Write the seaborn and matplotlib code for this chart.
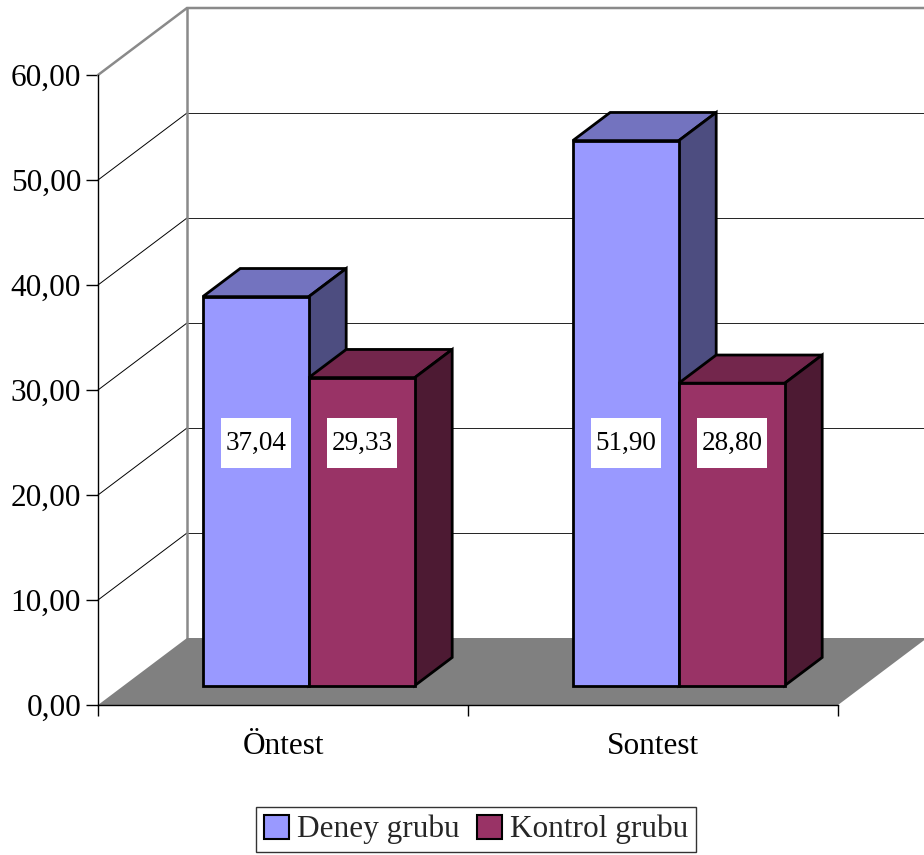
import matplotlib
matplotlib.use("Agg")
import matplotlib.pyplot as plt
import numpy as np
import pandas as pd
import seaborn as sns
from matplotlib.patches import Polygon, Patch
from matplotlib.path import Path

# --- data -------------------------------------------------------------
tests = ["Öntest", "Sontest"]
groups = ["Deney grubu", "Kontrol grubu"]
deney = [37.04, 51.90]
kontrol = [29.33, 28.80]
yticks = [0, 10, 20, 30, 40, 50, 60]

# --- style ------------------------------------------------------------
front_colors = {"Deney grubu": "#9999FF", "Kontrol grubu": "#993366"}
top_colors = {"Deney grubu": "#7373BF", "Kontrol grubu": "#73264C"}
side_colors = {"Deney grubu": "#4D4D80", "Kontrol grubu": "#4D1A33"}
frame_gray = "#8A8A8A"
floor_gray = "#808080"

# pseudo-3D geometry: full depth of the box in pixels, bar slab depth range
DEPTH_PX = (89.0, 67.0)
D_FRONT, D_BACK = 0.29, 0.71
LABEL_LEVEL = 23.1  # height of value labels in the bar plane

df = pd.DataFrame({
    "test": tests * 2,
    "grup": [groups[0]] * len(tests) + [groups[1]] * len(tests),
    "value": deney + kontrol,
})

sns.set_theme(style="white")
plt.rcParams["font.family"] = ["Liberation Serif", "DejaVu Serif"]

fig = plt.figure(figsize=(9.24, 8.55), dpi=100, facecolor="white")
ax = fig.add_axes([98 / 924, 150 / 855, 740 / 924, 630 / 855])

sns.barplot(data=df, x="test", y="value", hue="grup", order=tests,
            hue_order=groups, palette=front_colors, saturation=1,
            width=0.573, edgecolor="black", linewidth=2.0, ax=ax,
            legend=False)

# bar fronts with their group, in left-to-right drawing order
bars = []
for g, container in zip(groups, ax.containers):
    for p in container:
        bars.append((g, p))
bars.sort(key=lambda gp: gp[1].get_x())

ax.set_xlim(-0.5, len(tests) - 0.5)
ax.set_ylim(yticks[0], yticks[-1])
ax.patch.set_visible(False)

# depth offsets in data units
DX = DEPTH_PX[0] / (ax.bbox.width / (len(tests)))
DY = DEPTH_PX[1] / (ax.bbox.height / (yticks[-1] - yticks[0]))


def proj(x, y, d):
    return (x + d * DX, y + d * DY)


x0, x1 = -0.5, len(tests) - 0.5

# floor
floor = Polygon([proj(x0, 0, 0), proj(x1, 0, 0), proj(x1, 0, 1), proj(x0, 0, 1)],
                closed=True, facecolor=floor_gray, edgecolor="none",
                zorder=2, clip_on=False)
ax.add_patch(floor)

# gridlines on left and back walls
for t in yticks[1:-1]:
    lx, ly = zip((x0, t), proj(x0, t, 1))
    ax.plot(lx, ly, color="black", lw=0.7, zorder=1, clip_on=False)
    bx_, by_ = zip(proj(x0, t, 1), proj(x1, t, 1))
    ax.plot(bx_, by_, color="#222222", lw=0.7, zorder=1, clip_on=False)

# wall frame
top = yticks[-1]
fx, fy = zip((x0, top), proj(x0, top, 1), proj(x1, top, 1))
ax.plot(fx, fy, color=frame_gray, lw=1.8, zorder=1, clip_on=False,
        solid_joinstyle="miter")
vx, vy = zip(proj(x0, 0, 1), proj(x0, top, 1))
ax.plot(vx, vy, color=frame_gray, lw=1.8, zorder=1, clip_on=False)


def label_box(x0b, y0b, width, height, mutation_size):
    px = 0.17 * mutation_size
    py = 0.45 * mutation_size
    verts = [(x0b - px, y0b - py), (x0b + width + px, y0b - py),
             (x0b + width + px, y0b + height + py), (x0b - px, y0b + height + py),
             (x0b - px, y0b - py)]
    return Path(verts, [Path.MOVETO, Path.LINETO, Path.LINETO, Path.LINETO,
                        Path.CLOSEPOLY])


for i, (g, p) in enumerate(bars):
    bx, bw, bh = p.get_x(), p.get_width(), p.get_height()
    z = 10 + 3 * i
    topface = Polygon([proj(bx, bh, D_FRONT), proj(bx + bw, bh, D_FRONT),
                       proj(bx + bw, bh, D_BACK), proj(bx, bh, D_BACK)],
                      closed=True, facecolor=top_colors[g], edgecolor="black",
                      lw=2.0, zorder=z, clip_on=False, joinstyle="miter")
    side = Polygon([proj(bx + bw, 0, D_FRONT), proj(bx + bw, bh, D_FRONT),
                    proj(bx + bw, bh, D_BACK), proj(bx + bw, 0, D_BACK)],
                   closed=True, facecolor=side_colors[g], edgecolor="black",
                   lw=2.0, zorder=z, clip_on=False, joinstyle="miter")
    ax.add_patch(topface)
    ax.add_patch(side)
    fx0, fy0 = proj(bx, 0, D_FRONT)
    p.set_x(fx0)
    p.set_y(fy0)
    p.set_zorder(z + 1)
    p.set_clip_on(False)
    p.set_joinstyle("miter")
    cx, cy = proj(bx + bw / 2, LABEL_LEVEL, D_FRONT)
    ax.text(cx, cy, f"{bh:.2f}".replace(".", ","), ha="center", va="center",
            fontsize=19.5, color="black", zorder=z + 2,
            bbox=dict(boxstyle=label_box, facecolor="white", edgecolor="none"))

# axes, ticks and labels
for s in ["top", "right"]:
    ax.spines[s].set_visible(False)
for s in ["left", "bottom"]:
    ax.spines[s].set_color("black")
    ax.spines[s].set_linewidth(1.0)
    ax.spines[s].set_zorder(5)

ax.set_yticks(yticks, [f"{t:.2f}".replace(".", ",") for t in yticks])
ax.tick_params(axis="y", direction="out", length=8.6, width=1.0, pad=3.6,
               labelsize=22.5, colors="black", left=True)
ax.set_xticks(range(len(tests)), tests)
ax.set_xticks(np.arange(len(tests) + 1) - 0.5, minor=True)
ax.tick_params(axis="x", which="major", length=0, pad=19.5, labelsize=22.5,
               colors="black")
ax.tick_params(axis="x", which="minor", direction="out", length=8,
               width=1.0, color="black", bottom=True)
ax.set_xlabel("")
ax.set_ylabel("")
ax.grid(False)

handles = [Patch(facecolor=front_colors[g], edgecolor="black", lw=1.5, label=g)
           for g in groups]
leg = fig.legend(handles=handles, loc="center",
                 bbox_to_anchor=(476 / 924, 1 - 829.5 / 855), ncol=2,
                 frameon=True, fancybox=False, edgecolor="black",
                 fontsize=22.5, handlelength=0.8, handleheight=0.8,
                 handletextpad=0.25, columnspacing=0.55, borderpad=0.25,
                 borderaxespad=0)
leg.get_frame().set_linewidth(1.0)

fig.savefig("out.png", dpi=100, facecolor="white")
